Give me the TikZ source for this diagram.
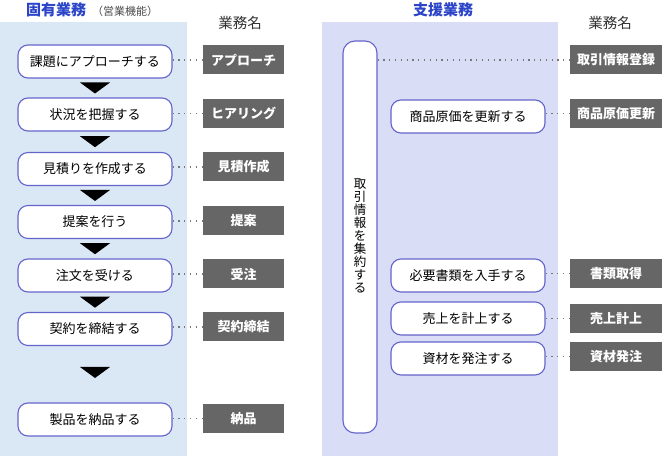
\documentclass[tikz,border=0pt]{standalone}
\usepackage{fontspec}
\setmainfont{Noto Sans CJK JP}
\usetikzlibrary{calc}
\definecolor{leftbg}{HTML}{DAE8F6}
\definecolor{rightbg}{HTML}{D9DEF6}
\definecolor{boxc}{HTML}{6464CC}
\definecolor{labc}{HTML}{666666}
\definecolor{headblue}{HTML}{2B44C8}
\definecolor{dotc}{HTML}{777777}
\tikzset{
  procbox/.style={draw=boxc, line width=1.1pt, fill=white, rounded corners=10pt,
    minimum width=154pt, minimum height=33pt, inner sep=0pt, font=\fontsize{13}{14}\selectfont},
  namelab/.style={fill=labc, text=white, minimum width=81pt, minimum height=29pt, inner sep=0pt,
    font=\fontsize{13}{14}\selectfont\bfseries},
  namelabr/.style={namelab, minimum width=92pt},
  dotline/.style={draw=dotc, line width=1.2pt, dash pattern=on 1.2pt off 4.6pt},
  downtri/.style={fill=black, draw=none},
  headtxt/.style={font=\fontsize{15}{16}\selectfont\bfseries, text=headblue, inner sep=0pt},
  colhead/.style={font=\fontsize{14.5}{16}\selectfont, text=black!80, inner sep=0pt},
}
\begin{document}
\begin{tikzpicture}[x=1pt,y=-1pt]
\useasboundingbox (0,0) rectangle (662,457);
\fill[white] (0,0) rectangle (662,457);
% panels
\fill[leftbg] (0,22) rectangle (187,456);
\fill[rightbg] (322,22) rectangle (558,456);
% headers
\node[headtxt, anchor=west] (h1) at (26,10) {固有業務};
\node[font=\fontsize{11}{12}\selectfont, text=black!70, anchor=west, inner sep=0pt] (h1s) at (92,11) {（営業機能）};
\node[colhead] (c1) at (240,22.5) {業務名};
\node[headtxt] (h2) at (443,10) {支援業務};
\node[colhead] (c2) at (610,22.5) {業務名};
% left process boxes
\node[procbox] (b1) at (95,61.5) {課題にアプローチする};
\node[procbox] (b2) at (95,114.5) {状況を把握する};
\node[procbox] (b3) at (95,169) {見積りを作成する};
\node[procbox] (b4) at (95,222) {提案を行う};
\node[procbox] (b5) at (95,275.5) {注文を受ける};
\node[procbox] (b6) at (95,329) {契約を締結する};
\node[procbox] (b7) at (95,419.5) {製品を納品する};
% left labels
\node[namelab] (l1) at (243.5,60) {アプローチ};
\node[namelab] (l2) at (243.5,113.5) {ヒアリング};
\node[namelab] (l3) at (243.5,167) {見積作成};
\node[namelab] (l4) at (243.5,221) {提案};
\node[namelab] (l5) at (243.5,274) {受注};
\node[namelab] (l6) at (243.5,327) {契約締結};
\node[namelab] (l7) at (243.5,418.5) {納品};
% dotted connectors left
\foreach \i in {1,...,7}{
  \draw[dotline] (b\i.east |- l\i.west) -- (l\i.west);
}
% triangles
\foreach \a/\b in {1/2,2/3,3/4,4/5,5/6}{
  \coordinate (m\a) at ($(b\a.south)!0.5!(b\b.north)$);
  \fill[downtri] ($(m\a)+(-15,-5.5)$) -- ($(m\a)+(15,-5.5)$) -- ($(m\a)+(0,5.5)$) -- cycle;
}
\coordinate (m6) at (95,372.5);
\fill[downtri] ($(m6)+(-15,-5.5)$) -- ($(m6)+(15,-5.5)$) -- ($(m6)+(0,5.5)$) -- cycle;
% right vertical box
\node[draw=boxc, line width=1.1pt, fill=white, rounded corners=12pt,
  minimum width=34pt, minimum height=392pt, inner sep=0pt] (v) at (360,237) {};
\node[align=center, font=\fontsize{12.5}{13}\selectfont, inner sep=0pt] (vt) at (360,236)
  {取\\引\\情\\報\\を\\集\\約\\す\\る};
% right process boxes
\node[procbox] (r1) at (468,116.5) {商品原価を更新する};
\node[procbox] (r2) at (468,275.5) {必要書類を入手する};
\node[procbox] (r3) at (468,318.5) {売上を計上する};
\node[procbox] (r4) at (468,358.5) {資材を発注する};
% right labels
\node[namelabr] (s0) at (616,60) {取引情報登録};
\node[namelabr] (s1) at (616,113.5) {商品原価更新};
\node[namelabr] (s2) at (616,273.5) {書類取得};
\node[namelabr] (s3) at (616,318.5) {売上計上};
\node[namelabr] (s4) at (616,356.5) {資材発注};
% dotted connectors right
\draw[dotline] (v.east |- s0.west) -- (s0.west);
\foreach \i in {1,...,4}{
  \draw[dotline] (r\i.east |- s\i.west) -- (s\i.west);
}
\end{tikzpicture}
\end{document}
